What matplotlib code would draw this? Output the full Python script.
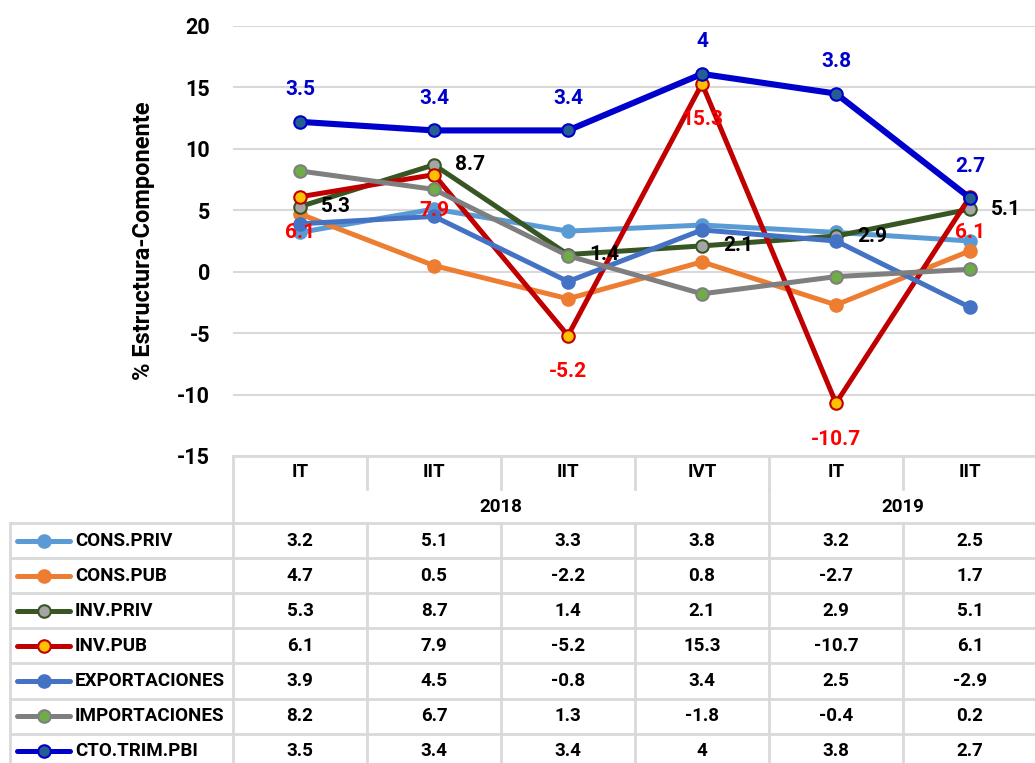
import matplotlib
matplotlib.use("Agg")
import matplotlib.pyplot as plt
from matplotlib.lines import Line2D

plt.rcParams['font.family'] = ['Roboto', 'DejaVu Sans']
plt.rcParams['font.weight'] = 'bold'
plt.rcParams['axes.unicode_minus'] = False

quarters = ["IT", "IIT", "IIT", "IVT", "IT", "IIT"]
years = ["2018", "2019"]
year_span = [(0, 3), (4, 5)]

series_names = ["CONS.PRIV", "CONS.PUB", "INV.PRIV", "INV.PUB",
                "EXPORTACIONES", "IMPORTACIONES", "CTO.TRIM.PBI"]
cons_priv = [3.2, 5.1, 3.3, 3.8, 3.2, 2.5]
cons_pub = [4.7, 0.5, -2.2, 0.8, -2.7, 1.7]
inv_priv = [5.3, 8.7, 1.4, 2.1, 2.9, 5.1]
inv_pub = [6.1, 7.9, -5.2, 15.3, -10.7, 6.1]
exportaciones = [3.9, 4.5, -0.8, 3.4, 2.5, -2.9]
importaciones = [8.2, 6.7, 1.3, -1.8, -0.4, 0.2]
cto_table = ["3.5", "3.4", "3.4", "4", "3.8", "2.7"]
cto_plot = [12.2, 11.5, 11.5, 16.1, 14.5, 6.0]

table_values = [cons_priv, cons_pub, inv_priv, inv_pub, exportaciones, importaciones]

styles = [
    dict(color="#5B9BD5", mfc="#5B9BD5", mec="#5B9BD5", lw=3.6),
    dict(color="#ED7D31", mfc="#ED7D31", mec="#ED7D31", lw=3.6),
    dict(color="#375623", mfc="#A5A5A5", mec="#375623", lw=3.6),
    dict(color="#C00000", mfc="#FFC000", mec="#C00000", lw=3.6),
    dict(color="#4472C4", mfc="#4472C4", mec="#4472C4", lw=3.6),
    dict(color="#7F7F7F", mfc="#70AD47", mec="#7F7F7F", lw=3.6),
    dict(color="#0000CC", mfc="#255E91", mec="#0000CC", lw=4.4),
]
plot_series = [cons_priv, cons_pub, inv_priv, inv_pub, exportaciones, importaciones, cto_plot]

W, H = 1035, 763
fig = plt.figure(figsize=(W / 100, H / 100), dpi=100)

def fx(px):
    return px / W

def fy(py):
    return 1 - py / H

ax_l, ax_r, ax_t, ax_b = 233, 1037, 26, 456
ax = fig.add_axes([fx(ax_l), fy(ax_b), fx(ax_r - ax_l), (ax_b - ax_t) / H])
x = list(range(len(quarters)))
for vals, st in zip(plot_series, styles):
    ax.plot(x, vals, color=st["color"], lw=st["lw"], marker="o", ms=9,
            mfc=st["mfc"], mec=st["mec"], mew=1.5, solid_joinstyle="round",
            solid_capstyle="round", clip_on=False)

ax.set_xlim(-0.5, 5.5)
ax.set_ylim(-15, 20)
ax.set_yticks(range(-15, 21, 5))
ax.tick_params(axis="y", length=0, labelsize=15.5, pad=16.5)
ax.tick_params(axis="x", length=0, labelbottom=False)
for lab in ax.get_yticklabels():
    lab.set_fontweight("bold")
ax.grid(axis="y", color="#D9D9D9", lw=1.5)
ax.set_axisbelow(True)
for s in ax.spines.values():
    s.set_visible(False)
ax.set_ylabel("% Estructura-Componente", fontsize=17, fontweight="bold")
ax.yaxis.set_label_coords((155 - ax_l) / (ax_r - ax_l), 0.5)

# data labels
for i in x:
    ax.annotate(cto_table[i], (i, cto_plot[i]), xytext=(0, 23), textcoords="offset points",
                ha="center", va="center", color="#0000CC", fontsize=15, fontweight="bold")
    ax.annotate(f"{inv_pub[i]}", (i, inv_pub[i]), xytext=(0, -26), textcoords="offset points",
                ha="center", va="center", color="#FF0000", fontsize=15, fontweight="bold")
    ax.annotate(f"{inv_priv[i]}", (i, inv_priv[i]), xytext=(15, 0), textcoords="offset points",
                ha="left", va="center", color="#000000", fontsize=15, fontweight="bold")

# table
tab = fig.add_axes([0, 0, 1, 1])
tab.set_xlim(0, W)
tab.set_ylim(H, 0)
tab.axis("off")
gc = "#D9D9D9"
lwt = 2.0
col_w = (ax_r - ax_l) / len(quarters)
col_edges = [ax_l + k * col_w for k in range(len(quarters) + 1)]
centers = [ax_l + (k + 0.5) * col_w for k in range(len(quarters))]

hdr_top, hdr_mid, hdr_bot = 456, 489, 523
row_h = 35.1
n_rows = len(series_names)
row_edges = [hdr_bot + k * row_h for k in range(n_rows + 1)]

tab.plot([ax_l, ax_r], [hdr_top, hdr_top], color=gc, lw=lwt)
tab.plot([ax_l, ax_l], [hdr_top, H], color=gc, lw=lwt)
for k in range(1, len(quarters)):
    tab.plot([col_edges[k], col_edges[k]], [hdr_top, hdr_mid], color=gc, lw=lwt)
    tab.plot([col_edges[k], col_edges[k]], [hdr_bot, H], color=gc, lw=lwt)
# year separator
tab.plot([col_edges[4], col_edges[4]], [hdr_mid, hdr_bot], color=gc, lw=lwt)
tab.plot([10, 10], [hdr_bot, H], color=gc, lw=lwt)
for yb in row_edges[:-1]:
    tab.plot([10, ax_r], [yb, yb], color=gc, lw=lwt)

fs_tab = 13.5
for k, q in enumerate(quarters):
    tab.text(centers[k], 472, q, ha="center", va="center", fontsize=fs_tab, fontweight="bold")
for yr, (a, b) in zip(years, year_span):
    xc = (col_edges[a] + col_edges[b + 1]) / 2
    tab.text(xc, 507, yr, ha="center", va="center", fontsize=fs_tab, fontweight="bold")

for r, name in enumerate(series_names):
    yc = (row_edges[r] + row_edges[r + 1]) / 2
    st = styles[r]
    tab.add_line(Line2D([17, 70], [yc, yc], color=st["color"], lw=3.6,
                        solid_capstyle="round"))
    tab.plot([43.5], [yc], marker="o", ms=9, mfc=st["mfc"], mec=st["mec"], mew=1.5)
    tab.text(75, yc, name, ha="left", va="center", fontsize=fs_tab, fontweight="bold")
    for k in range(len(quarters)):
        if r < len(table_values):
            txt = f"{table_values[r][k]}"
        else:
            txt = cto_table[k]
        tab.text(centers[k], yc, txt, ha="center", va="center", fontsize=fs_tab, fontweight="bold")

fig.savefig("out.png", dpi=100)
